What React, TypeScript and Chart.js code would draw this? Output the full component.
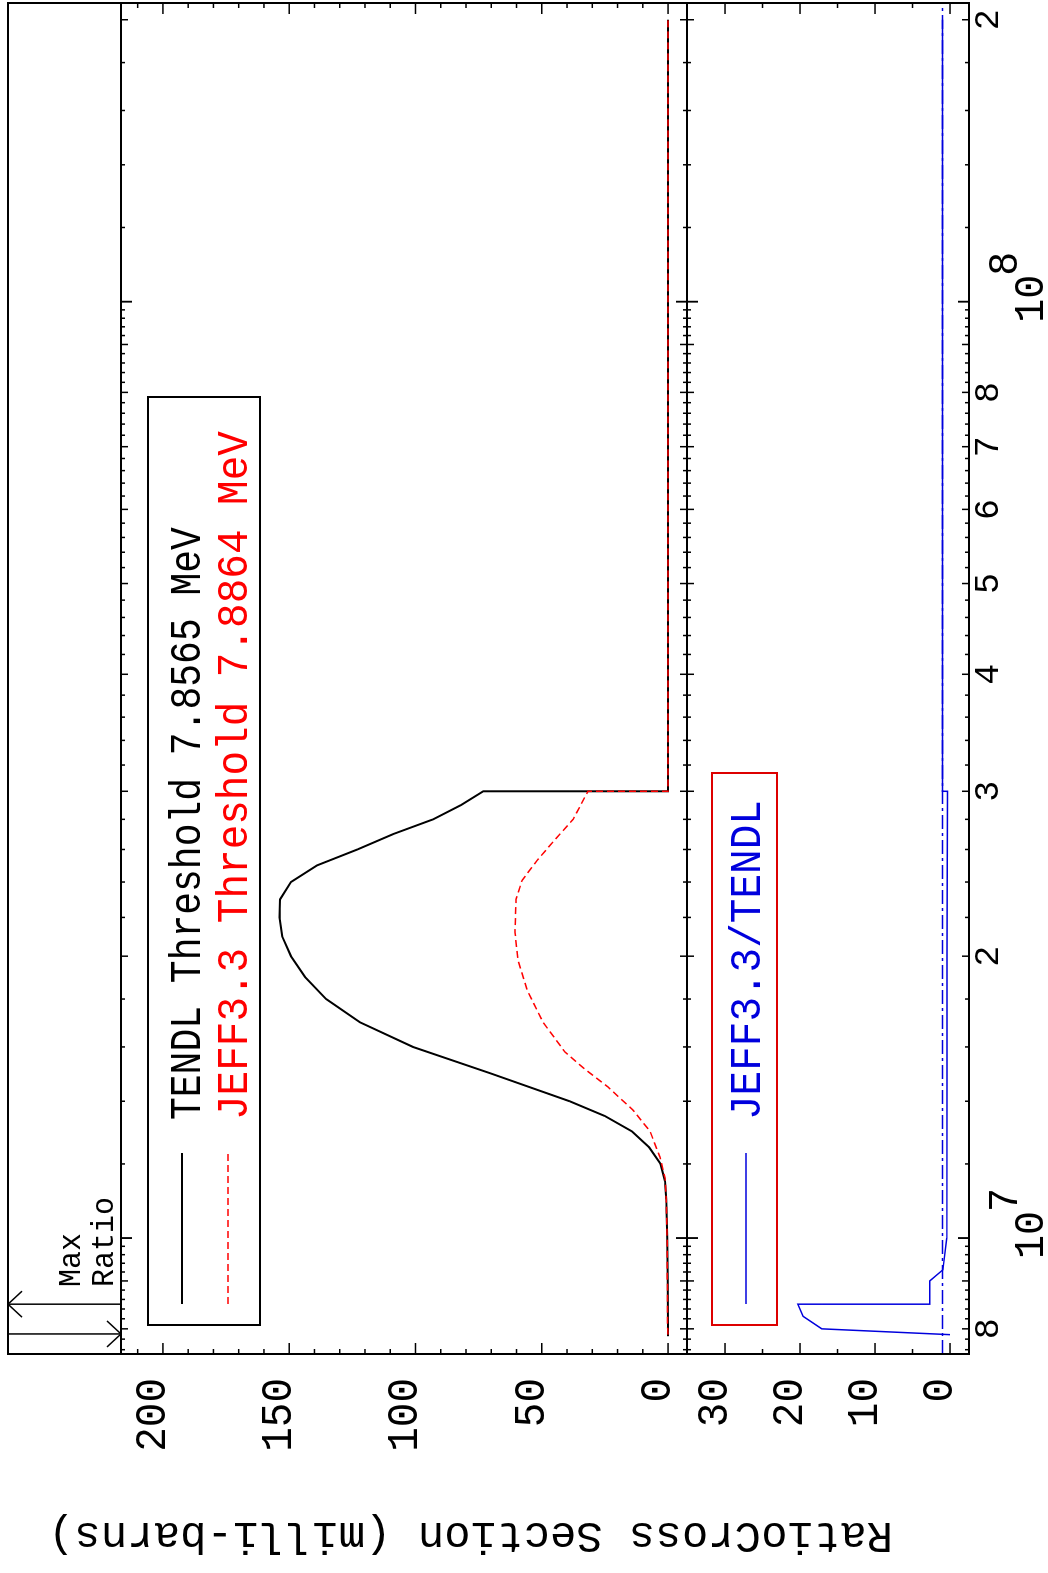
import { useEffect, useRef } from 'react';
import { Chart, registerables } from 'chart.js';

Chart.register(...registerables);

// Canvas is drawn in the "unrotated" orientation and rotated -90deg by CSS.
const W = 1573;
const H = 1048;

// ---------------- data ----------------
const tendlEnergy = [7.8565e6, 8.0e6, 9.0e6, 1.0e7, 1.1e7, 1.15e7, 1.2e7, 1.25e7, 1.3e7, 1.35e7, 1.4e7, 1.5e7, 1.6e7, 1.7e7, 1.8e7, 1.9e7, 2.0e7, 2.1e7, 2.2e7, 2.3e7, 2.4e7, 2.5e7, 2.6e7, 2.7e7, 2.8e7, 2.9e7, 3.0e7, 3.0e7, 2.0e8];
const tendlXS = [0, 0.01, 0.1, 0.3, 0.7, 1.2, 3.0, 7.5, 14.3, 25, 39, 70.5, 101, 122, 135.4, 143.7, 149.3, 152.8, 153.8, 153.6, 149.3, 139, 123, 108.9, 93, 82, 73.2, 0, 0];

const jeffEnergy = [7.8864e6, 8.0e6, 9.0e6, 1.0e7, 1.1e7, 1.16e7, 1.22e7, 1.3e7, 1.37e7, 1.45e7, 1.52e7, 1.58e7, 1.7e7, 1.84e7, 1.98e7, 2.12e7, 2.3e7, 2.41e7, 2.53e7, 2.65e7, 2.8e7, 3.0e7, 3.0e7, 2.0e8];
const jeffXS = [0, 0.17, 0.27, 0.35, 0.7, 1.2, 3.2, 7.1, 13.9, 23.8, 33.6, 40.8, 49.5, 55.8, 59.4, 60.6, 60.2, 57.8, 51.9, 45.5, 37.6, 31.7, 0, 0];

const ratioEnergy = [7.8864e6, 8.0e6, 8.25e6, 8.5e6, 8.5e6, 9.0e6, 9.25e6, 1.0e7, 1.5e7, 2.0e7, 2.5e7, 3.0e7, 3.0e7, 2.0e8];
const ratioValues = [0, 17.1, 19.6, 20.3, 2.7, 2.7, 0.95, 0.44, 0.42, 0.4, 0.37, 0.33, 1.0, 1.0];

const unityEnergy = [7.52e6, 2.084e8];
const unityValues = [1, 1];

const maxRatioMarkers = [8.5e6, 7.9e6]; // up arrow, down arrow

// axes
const xRange = [7.52e6, 2.084e8];
const xsRange = [-7.5, 216.6];
const ratioRange = [-2.53, 35.07];
const xDecadeTicks = [1e7, 1e8];
const xLabelTicks = [8e6, 2e7, 3e7, 4e7, 5e7, 6e7, 7e7, 8e7, 2e8];
const xLabelText = ['8', '2', '3', '4', '5', '6', '7', '8', '2'];
const xsTickLabels = [0, 50, 100, 150, 200];
const ratioTickLabels = [0, 10, 20, 30];

const legendTop = ['TENDL Threshold 7.8565 MeV', 'JEFF3.3 Threshold 7.8864 MeV'];
const legendBottom = 'JEFF3.3/TENDL';
const yTitleRatio = 'Ratio';
const yTitleXS = 'Cross Section (milli-barns)';

// ---------------- drawing helpers ----------------
const FONT = '"Liberation Mono", "DejaVu Sans Mono", monospace';
const BLUE = '#0000dd';
const RED = '#ff0000';

function drawText(ctx: CanvasRenderingContext2D, s: string, x: number, y: number, size: number, color: string, align: CanvasTextAlign = 'left', sy = 1) {
  ctx.save();
  ctx.translate(x, y);
  ctx.scale(1, sy);
  ctx.font = `${size}px ${FONT}`;
  ctx.fillStyle = color;
  ctx.textAlign = align;
  ctx.textBaseline = 'alphabetic';
  ctx.fillText(s, 0, 0);
  ctx.restore();
}

function seg(ctx: CanvasRenderingContext2D, x1: number, y1: number, x2: number, y2: number) {
  ctx.beginPath();
  ctx.moveTo(x1, y1);
  ctx.lineTo(x2, y2);
  ctx.stroke();
}

function minorXTicks(): number[] {
  const out: number[] = [];
  const decades = [1e6, 1e7, 1e8];
  for (const d of decades) {
    for (let k = 5; k <= 50; k++) {
      const v = (k * 2 * d) / 10;
      if (v >= xRange[0] && v <= xRange[1]) out.push(v);
    }
  }
  return out;
}

const framePlugin = {
  id: 'framePlugin',
  afterDatasetsDraw(chart: any) {
    const ctx: CanvasRenderingContext2D = chart.ctx;
    const xs = chart.scales.x;
    const yc = chart.scales.y;
    const yr = chart.scales.yr;
    const L = chart.chartArea.left;
    const R = chart.chartArea.right;
    const headTop = 8;
    const top = yc.top;
    const mid = yc.bottom;
    const bot = yr.bottom;

    ctx.save();
    ctx.strokeStyle = '#000';
    ctx.lineWidth = 2;
    ctx.lineCap = 'butt';
    ctx.strokeRect(L, headTop, R - L, bot - headTop);
    seg(ctx, L, top, R, top);
    seg(ctx, L, mid, R, mid);

    // x ticks (inward)
    ctx.lineWidth = 1.5;
    for (const v of minorXTicks()) {
      const px = xs.getPixelForValue(v);
      const lg = Math.log10(v);
      const isDecade = Math.abs(lg - Math.round(lg)) < 1e-6;
      const dec = Math.pow(10, Math.floor(lg + 1e-9));
      const mult = v / dec;
      const isInt = Math.abs(mult - Math.round(mult)) < 1e-6;
      const len = isDecade ? 11 : isInt ? 7 : 4;
      seg(ctx, px, top, px, top + len);
      seg(ctx, px, mid - len, px, mid + len);
      seg(ctx, px, bot - len, px, bot);
    }
    // y ticks, cross section
    for (let v = 0; v <= xsRange[1]; v += 10) {
      const py = yc.getPixelForValue(v);
      const len = v % 50 === 0 ? 11 : 5;
      seg(ctx, L, py, L + len, py);
      seg(ctx, R - len, py, R, py);
    }
    // y ticks, ratio
    for (let v = 0; v <= ratioRange[1] - 1; v += 5) {
      const py = yr.getPixelForValue(v);
      const len = v % 10 === 0 ? 11 : 5;
      seg(ctx, L, py, L + len, py);
      seg(ctx, R - len, py, R, py);
    }

    // y tick labels
    for (const v of xsTickLabels) {
      drawText(ctx, String(v), L - 24, yc.getPixelForValue(v) + 2, 41, '#000', 'right', 1.08);
    }
    for (const v of ratioTickLabels) {
      drawText(ctx, String(v), L - 24, yr.getPixelForValue(v) + 2, 41, '#000', 'right', 1.08);
    }

    // x tick labels
    xLabelTicks.forEach((v, i) => {
      drawText(ctx, xLabelText[i], xs.getPixelForValue(v), bot + 29, 35, '#000', 'center', 1.0);
    });
    ctx.font = `40px ${FONT}`;
    const w10 = ctx.measureText('10').width;
    for (const v of xDecadeTicks) {
      const px = xs.getPixelForValue(v);
      const x0 = px - w10 / 2 + 3;
      drawText(ctx, '10', x0, bot + 74, 40, '#000', 'left', 1.05);
      drawText(ctx, String(Math.round(Math.log10(v))), x0 + w10 - 1, bot + 48, 40, '#000', 'left', 1.05);
    }

    // header: Max Ratio markers
    ctx.lineWidth = 1.5;
    const up = xs.getPixelForValue(maxRatioMarkers[0]);
    seg(ctx, up, headTop, up, top);
    seg(ctx, up, headTop, up - 13, headTop + 14);
    seg(ctx, up, headTop, up + 13, headTop + 14);
    const dn = xs.getPixelForValue(maxRatioMarkers[1]);
    seg(ctx, dn, headTop, dn, top);
    seg(ctx, dn, top, dn - 13, top - 14);
    seg(ctx, dn, top, dn + 13, top - 14);
    drawText(ctx, 'Max', 286, 80, 30, '#000', 'left', 1.05);
    drawText(ctx, 'Ratio', 286, 113, 30, '#000', 'left', 1.05);

    // upper legend
    ctx.lineWidth = 2;
    ctx.strokeStyle = '#000';
    ctx.strokeRect(248, 148, 1176 - 248, 260 - 148);
    ctx.lineWidth = 2;
    seg(ctx, 269, 182, 420, 182);
    ctx.strokeStyle = RED;
    ctx.lineWidth = 1.5;
    ctx.setLineDash([7, 4]);
    seg(ctx, 269, 228, 420, 228);
    ctx.setLineDash([]);
    drawText(ctx, legendTop[0], 453, 200, 38, '#000', 'left', 1.15);
    drawText(ctx, legendTop[1], 453, 247, 41, RED, 'left', 1.1);

    // lower legend
    ctx.strokeStyle = '#dd0000';
    ctx.lineWidth = 2;
    ctx.strokeRect(248, 712, 800 - 248, 777 - 712);
    ctx.strokeStyle = BLUE;
    ctx.lineWidth = 1.5;
    seg(ctx, 269, 746, 420, 746);
    drawText(ctx, legendBottom, 453, 760, 41, BLUE, 'left', 1.1);

    // y axis titles (rotated)
    ctx.save();
    ctx.translate(50, 893);
    ctx.rotate(-Math.PI / 2);
    ctx.font = `44px ${FONT}`;
    ctx.fillStyle = '#000';
    ctx.textAlign = 'left';
    ctx.textBaseline = 'alphabetic';
    ctx.fillText(yTitleRatio, 0, 0);
    const wr = ctx.measureText(yTitleRatio).width;
    ctx.fillText(yTitleXS, wr, 0);
    ctx.restore();

    ctx.restore();
  },
};

function pts(xa: number[], ya: number[]) {
  return xa.map((x, i) => ({ x, y: ya[i] }));
}

export default function App() {
  const ref = useRef<HTMLCanvasElement>(null);
  useEffect(() => {
    document.body.style.overflow = 'hidden';
    const canvas = ref.current;
    if (!canvas) return;
    const hidden = {
      ticks: { display: false },
      grid: { display: false, drawTicks: false },
      border: { display: false },
    };
    const chart = new Chart(canvas, {
      type: 'line',
      data: {
        datasets: [
          {
            label: 'JEFF3.3',
            data: pts(jeffEnergy, jeffXS),
            borderColor: RED,
            borderWidth: 1.5,
            borderDash: [7, 4],
            yAxisID: 'y',
            order: 0,
          },
          {
            label: 'TENDL',
            data: pts(tendlEnergy, tendlXS),
            borderColor: '#000',
            borderWidth: 2,
            yAxisID: 'y',
            order: 1,
          },
          {
            label: 'JEFF3.3/TENDL',
            data: pts(ratioEnergy, ratioValues),
            borderColor: BLUE,
            borderWidth: 1.5,
            yAxisID: 'yr',
            order: 2,
          },
          {
            label: 'unity',
            data: pts(unityEnergy, unityValues),
            borderColor: BLUE,
            borderWidth: 1.5,
            borderDash: [14, 4, 3, 4],
            yAxisID: 'yr',
            order: 3,
          },
        ],
      },
      options: {
        responsive: false,
        animation: false,
        devicePixelRatio: 1,
        events: [],
        parsing: true,
        elements: {
          point: { radius: 0 },
          line: { tension: 0, fill: false },
        },
        layout: { padding: { left: 219, right: 3, top: 121, bottom: 79 } },
        plugins: {
          legend: { display: false },
          tooltip: { enabled: false },
          title: { display: false },
        },
        scales: {
          x: {
            type: 'logarithmic',
            position: 'bottom',
            min: xRange[0],
            max: xRange[1],
            bounds: 'data',
            ...hidden,
            afterFit: (s: any) => {
              s.height = 0;
            },
          },
          yr: {
            type: 'linear',
            position: 'left',
            stack: 'panels',
            stackWeight: 282,
            weight: 1,
            min: ratioRange[0],
            max: ratioRange[1],
            ...hidden,
            afterFit: (s: any) => {
              s.width = 0;
            },
          },
          y: {
            type: 'linear',
            position: 'left',
            stack: 'panels',
            stackWeight: 566,
            weight: 2,
            min: xsRange[0],
            max: xsRange[1],
            ...hidden,
            afterFit: (s: any) => {
              s.width = 0;
            },
          },
        },
      } as any,
      plugins: [framePlugin],
    });
    return () => chart.destroy();
  }, []);

  return (
    <div
      style={{
        position: 'absolute',
        left: 0,
        top: 0,
        width: W,
        height: H,
        transformOrigin: '0 0',
        transform: `translate(0px, ${W}px) rotate(-90deg)`,
        background: '#fff',
      }}
    >
      <canvas ref={ref} width={W} height={H} style={{ display: 'block', width: W, height: H }} />
    </div>
  );
}
